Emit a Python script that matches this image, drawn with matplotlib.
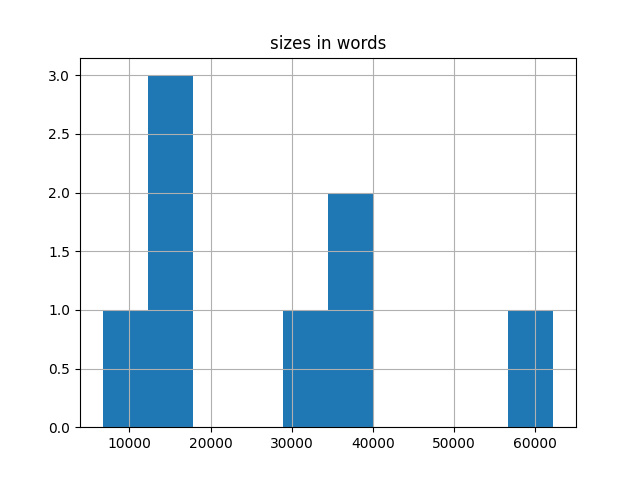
import matplotlib
matplotlib.use("Agg")
import matplotlib.pyplot as plt

# word counts per document
sizes = [6700, 13200, 15100, 16900, 31500, 36200, 38600, 62250]
n_bins = 10
title = 'sizes in words'

fig, ax = plt.subplots(figsize=(6.4, 4.8), dpi=100)
ax.hist(sizes, bins=n_bins, color='#1f77b4')
ax.grid(True)
ax.set_title(title)

fig.savefig('out.png')
